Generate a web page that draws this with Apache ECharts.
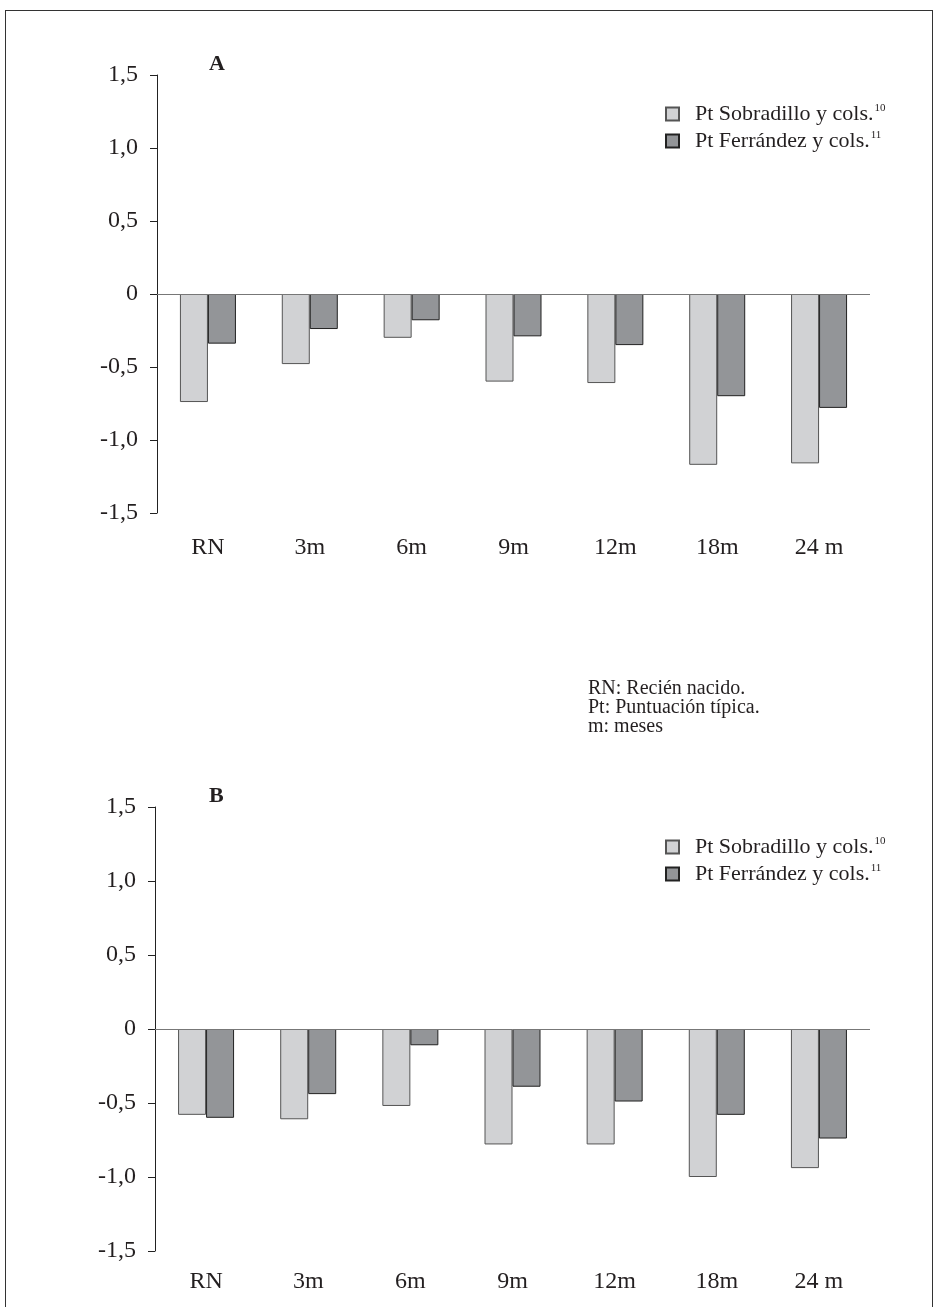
<!DOCTYPE html>
<html>
<head>
<meta charset="utf-8">
<script src="https://cdn.jsdelivr.net/npm/echarts@6/dist/echarts.min.js"></script>
<style>
  html, body { margin: 0; padding: 0; background: #fff; }
  #frame { position: absolute; left: 5px; top: 10px; width: 926px; height: 1310px;
           border-left: 1.5px solid #333; border-top: 1.5px solid #333; border-right: 1.5px solid #333; }
  #chart { position: absolute; left: 0; top: 0; width: 938px; height: 1307px; }
</style>
</head>
<body>
<div id="frame"></div>
<div id="chart"></div>
<script>
const categories = ['RN', '3m', '6m', '9m', '12m', '18m', '24 m'];
const seriesNames = ['Pt Sobradillo y cols.', 'Pt Ferrández y cols.'];
const superscripts = ['10', '11'];
const aSobradillo = [-0.74, -0.48, -0.30, -0.60, -0.61, -1.17, -1.16];
const aFerrandez  = [-0.34, -0.24, -0.18, -0.29, -0.35, -0.70, -0.78];
const bSobradillo = [-0.58, -0.61, -0.52, -0.78, -0.78, -1.00, -0.94];
const bFerrandez  = [-0.60, -0.44, -0.11, -0.39, -0.49, -0.58, -0.74];
const yTickValues = [-1.5, -1.0, -0.5, 0, 0.5, 1.0, 1.5];
const noteLines = ['RN: Recién nacido.', 'Pt: Puntuación típica.', 'm: meses'];

const FONT = '"Liberation Serif", "Times New Roman", serif';
const LIGHT = '#d1d2d4';
const DARK = '#939598';
const TEXT = '#231f20';

function yLabel(v) {
  if (Math.abs(v) < 1e-9) return '0';
  return v.toFixed(1).replace('.', ',');
}

function yAxisCfg(gridIndex) {
  return {
    type: 'value', gridIndex: gridIndex, min: -1.5, max: 1.5, interval: 0.5,
    axisLine: { show: true, lineStyle: { color: '#222', width: 1 } },
    axisTick: { show: true, inside: false, length: 7, lineStyle: { color: '#222', width: 1 } },
    splitLine: { show: false },
    axisLabel: { fontFamily: FONT, fontSize: 24, color: TEXT, margin: 19,
                 formatter: function (v) { return yTickValues.indexOf(Math.round(v * 10) / 10) >= 0 ? yLabel(v) : ''; } }
  };
}

function xAxisCfg(gridIndex, margin) {
  return {
    type: 'category', gridIndex: gridIndex, data: categories, position: 'bottom',
    axisLine: { show: false, onZero: false }, axisTick: { show: false },
    axisLabel: { fontFamily: FONT, fontSize: 24, color: TEXT, margin: margin }
  };
}

function barSeries(name, data, color, border, idx, withZero) {
  const s = {
    name: name, type: 'bar', data: data, xAxisIndex: idx, yAxisIndex: idx,
    barWidth: 28, barGap: '0%',
    itemStyle: { color: color, borderColor: border, borderWidth: 1 },
    emphasis: { disabled: true }
  };
  if (withZero) {
    s.markLine = { silent: true, symbol: 'none', label: { show: false },
      lineStyle: { color: '#777', width: 1, type: 'solid' }, data: [{ yAxis: 0 }] };
  }
  return s;
}

function legendCfg(top) {
  return {
    orient: 'vertical', left: 660, top: top, itemWidth: 13, itemHeight: 13, itemGap: 5,
    icon: 'rect', data: seriesNames,
    formatter: function (name) { return '{t|' + name + '}{s|' + superscripts[seriesNames.indexOf(name)] + '}'; },
    textStyle: { fontFamily: FONT, color: TEXT, rich: {
      t: { fontFamily: FONT, fontSize: 22, color: TEXT, lineHeight: 22, padding: [0, 0, 0, 11] },
      s: { fontFamily: FONT, fontSize: 11, color: TEXT, verticalAlign: 'top', lineHeight: 11, padding: [0, 0, 0, 1] }
    } }
  };
}

const chart = echarts.init(document.getElementById('chart'), null, { renderer: 'canvas' });
chart.setOption({
  animation: false,
  backgroundColor: 'transparent',
  title: [
    { text: 'A', left: 204, top: 48, textStyle: { fontFamily: FONT, fontSize: 22, fontWeight: 'bold', color: TEXT } },
    { text: 'B', left: 204, top: 780, textStyle: { fontFamily: FONT, fontSize: 22, fontWeight: 'bold', color: TEXT } },
    { text: noteLines.join('\n'), left: 583, top: 674,
      textStyle: { fontFamily: FONT, fontSize: 20, fontWeight: 'normal', color: TEXT, lineHeight: 19 } }
  ],
  legend: [legendCfg(98), legendCfg(831)],
  grid: [
    { left: 157, top: 75, width: 713, height: 438, containLabel: false },
    { left: 155, top: 807, width: 715, height: 444, containLabel: false }
  ],
  xAxis: [xAxisCfg(0, 23), xAxisCfg(1, 19)],
  yAxis: [yAxisCfg(0), yAxisCfg(1)],
  series: [
    barSeries(seriesNames[0], aSobradillo, LIGHT, '#555', 0, true),
    barSeries(seriesNames[1], aFerrandez, DARK, '#222', 0, false),
    barSeries(seriesNames[0], bSobradillo, LIGHT, '#555', 1, true),
    barSeries(seriesNames[1], bFerrandez, DARK, '#222', 1, false)
  ]
});
</script>
</body>
</html>
